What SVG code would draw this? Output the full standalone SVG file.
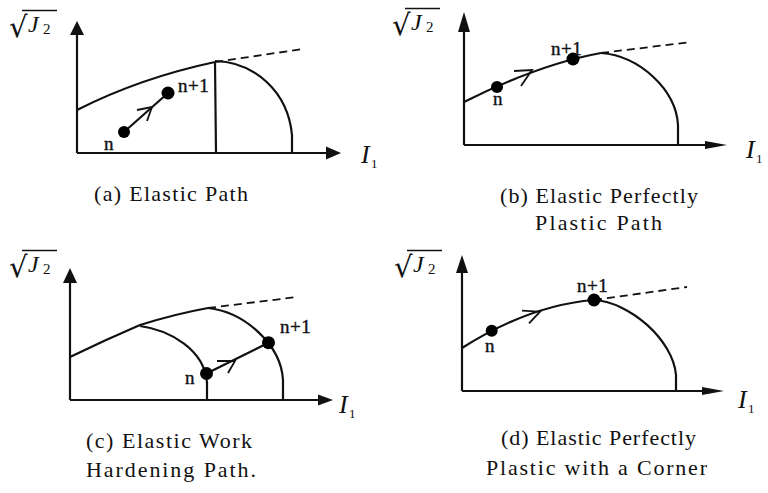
<svg xmlns="http://www.w3.org/2000/svg" width="768" height="493" viewBox="0 0 768 493">
<style>
.ax{stroke:#111;stroke-width:2.2;fill:none}
.ah{fill:#111;stroke:none}
.cv{stroke:#111;stroke-width:2.2;fill:none;stroke-linejoin:round}
.ds{stroke:#111;stroke-width:1.8;fill:none;stroke-dasharray:8 5}
.ch{stroke:#111;stroke-width:1.8;fill:none;stroke-linejoin:miter}
.dot{fill:#000}
.lbl{font-family:"Liberation Serif","Times New Roman",serif;font-size:19px;fill:#111;stroke:#111;stroke-width:0.4}
.cap{font-family:"Liberation Serif","Times New Roman",serif;font-size:22px;fill:#111}
.it{font-family:"Liberation Serif","Times New Roman",serif;font-style:italic;fill:#111}
.rad{font-family:"DejaVu Sans",sans-serif;fill:#111}
.sub{font-family:"Liberation Serif","Times New Roman",serif;fill:#111}
.bar{stroke:#111;stroke-width:1.6}
</style>
<defs>
<g id="sqrtJ2">
<text class="rad" x="9" y="37" font-size="29">√</text>
<line class="bar" x1="22" y1="10.5" x2="57" y2="10.5"/>
<text class="it" x="28" y="32" font-size="24">J</text>
<text class="sub" x="43" y="34" font-size="15">2</text>
</g>
<g id="I1">
<text class="it" x="0" y="18" font-size="26">I</text>
<text class="sub" x="10" y="23" font-size="13">1</text>
</g>
</defs>

<!-- Panel (a) -->
<g id="panel-a">
<use href="#sqrtJ2"/>
<use href="#I1" x="361" y="145"/>
<line class="ax" x1="77" y1="153" x2="77" y2="34"/>
<polygon class="ah" points="77,21 70,35 84,35"/>
<line class="ax" x1="77" y1="153" x2="328" y2="153"/>
<polygon class="ah" points="341,153 326,146.5 326,159.5"/>
<path class="cv" d="M77,110 Q140,78 215,62"/>
<path class="ds" d="M215,62 L303,49"/>
<path class="cv" d="M215,62 L216,153"/>
<path class="cv" d="M215,61 C255,62 288,92 292,135 L292,153"/>
<text class="cap" x="94" y="201" textLength="154" lengthAdjust="spacing">(a) Elastic Path</text>
</g>

<!-- Panel (b) -->
<g id="panel-b">
<use href="#sqrtJ2" x="383" y="-2"/>
<use href="#I1" x="746" y="140"/>
<line class="ax" x1="464" y1="145" x2="464" y2="30"/>
<polygon class="ah" points="464,12 458,32 470,32"/>
<line class="ax" x1="464" y1="145" x2="708" y2="145"/>
<polygon class="ah" points="727,145 705,141 705,149"/>
<path class="cv" d="M464,102 Q540,64 601,53"/>
<path class="ds" d="M601,53 L691,42"/>
<path class="cv" d="M601,53 C640,56 676,90 678,125 L678,145"/>
<text class="cap" x="500" y="203" textLength="198" lengthAdjust="spacing">(b) Elastic Perfectly</text>
<text class="cap" x="535" y="230" textLength="127" lengthAdjust="spacing">Plastic Path</text>
</g>

<!-- Panel (c) -->
<g id="panel-c">
<use href="#sqrtJ2" y="240"/>
<use href="#I1" x="339" y="395"/>
<line class="ax" x1="70" y1="400" x2="70" y2="281"/>
<polygon class="ah" points="70,268 63,283 77,283"/>
<line class="ax" x1="70" y1="400" x2="320" y2="400"/>
<polygon class="ah" points="333,400 318,394.5 318,405.5"/>
<path class="cv" d="M70,357 Q105,340 140,325 Q175,314 208,308"/>
<path class="ds" d="M208,308 L297,297"/>
<path class="cv" d="M208,308 C245,312 281,345 283,380 L283,400"/>
<path class="cv" d="M140,326 C170,330 205,350 207,383 L207,400"/>
<text class="cap" x="86" y="448" textLength="166" lengthAdjust="spacing">(c) Elastic Work</text>
<text class="cap" x="86" y="477" textLength="170" lengthAdjust="spacing">Hardening Path.</text>
</g>

<!-- Panel (d) -->
<g id="panel-d">
<use href="#sqrtJ2" x="385" y="240"/>
<use href="#I1" x="738" y="390"/>
<line class="ax" x1="462" y1="391" x2="462" y2="271"/>
<polygon class="ah" points="462,255 456,273 468,273"/>
<line class="ax" x1="462" y1="391" x2="704" y2="391"/>
<polygon class="ah" points="724,391 702,387 702,395"/>
<path class="cv" d="M462,348 Q530,305 594,300"/>
<path class="ds" d="M594,300 L687,287"/>
<path class="cv" d="M594,300 C630,302 673,340 676,375 L676,391"/>
<text class="cap" x="501" y="445" textLength="195" lengthAdjust="spacing">(d) Elastic Perfectly</text>
<text class="cap" x="486" y="475" textLength="221" lengthAdjust="spacing">Plastic with a Corner</text>
</g>

<!-- Connectors (load paths) -->
<g id="connectors">
<path class="cv" d="M124,132 L168,93"/>
<polyline class="ch" points="137,110 152,107 147,121"/>
<polyline class="ch" points="514,71 532,70 521,86"/>
<path class="cv" d="M206.5,373.5 L268.5,342.7"/>
<polyline class="ch" points="217,361 235,361 228,373"/>
<polyline class="ch" points="522,310.7 540,311.7 529,323.3"/>
</g>

<!-- Nodes (stress states) -->
<g id="a-n"><circle class="dot" cx="124" cy="132" r="6"/><text class="lbl" x="104" y="150">n</text></g>
<g id="a-n1"><circle class="dot" cx="168" cy="93" r="6.5"/><text class="lbl" x="178" y="92" letter-spacing="0.5">n+1</text></g>
<g id="b-n"><circle class="dot" cx="497" cy="87" r="6"/><text class="lbl" x="493" y="105">n</text></g>
<g id="b-n1"><circle class="dot" cx="573" cy="59" r="6.5"/><text class="lbl" x="551" y="55" letter-spacing="0.5">n+1</text></g>
<g id="c-n"><circle class="dot" cx="206.5" cy="373.5" r="6.5"/><text class="lbl" x="185" y="384">n</text></g>
<g id="c-n1"><circle class="dot" cx="268.5" cy="342.7" r="6.5"/><text class="lbl" x="280" y="333" letter-spacing="0.5">n+1</text></g>
<g id="d-n"><circle class="dot" cx="491.7" cy="330.7" r="6"/><text class="lbl" x="485" y="352">n</text></g>
<g id="d-n1"><circle class="dot" cx="594" cy="300" r="6.5"/><text class="lbl" x="577" y="292" letter-spacing="0.5">n+1</text></g>
</svg>
